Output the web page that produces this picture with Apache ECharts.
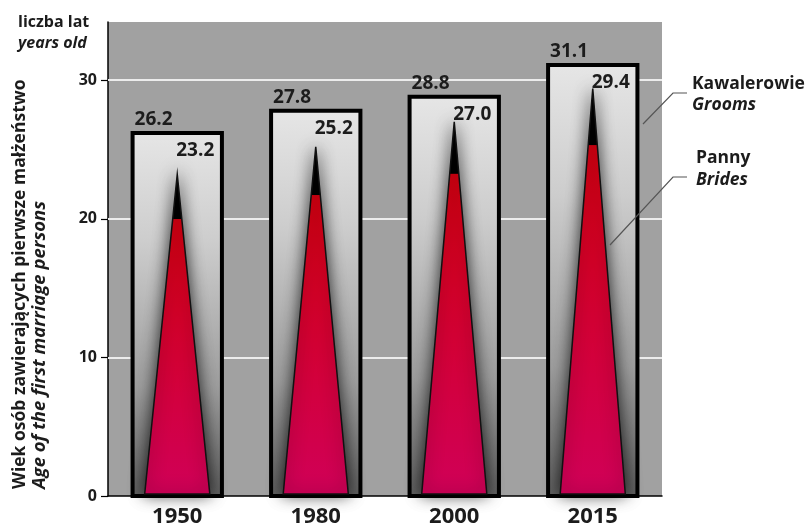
<!DOCTYPE html>
<html><head><meta charset="utf-8">
<script src="https://cdn.jsdelivr.net/npm/echarts@6/dist/echarts.min.js"></script>
<style>html,body{margin:0;padding:0;background:#fff}#c{width:809px;height:530px}</style>
</head><body><div id="c"></div>
<script>
const categories = ['1950', '1980', '2000', '2015'];
const grooms = [26.2, 27.8, 28.8, 31.1];
const brides = [23.2, 25.2, 27.0, 29.4];
const yTickValues = [0, 10, 20, 30];
const gridValues = [10, 20, 30];

const FONT = '"Open Sans", "Noto Sans", sans-serif';
const chart = echarts.init(document.getElementById('c'), null, {renderer: 'canvas'});

const data = categories.map((c, i) => [i, brides[i], grooms[i]]);

function renderItem(params, api) {
  const i = api.value(0), b = api.value(1), g = api.value(2);
  const base = api.coord([i, 0]);
  const gTop = api.coord([i, g]);
  const bTop = api.coord([i, b]);
  const band = api.size([1, 0])[0];
  const bw = band * 0.645;
  const tw = band * 0.235;
  return {
    type: 'group',
    children: [
      {
        type: 'rect',
        shape: {x: base[0] - bw / 2, y: gTop[1], width: bw, height: base[1] - gTop[1]},
        style: {
          fill: new echarts.graphic.LinearGradient(0, 0, 0, 1, [
            {offset: 0, color: '#e6e6e6'},
            {offset: 0.3, color: '#cdcdcd'},
            {offset: 0.7, color: '#9c9c9c'},
            {offset: 1, color: '#5e5e5e'}
          ]),
          stroke: '#000', lineWidth: 4
        }
      },
      {
        type: 'polygon',
        shape: {points: [[base[0] - tw, base[1] - 2], [base[0] + tw, base[1] - 2], [bTop[0], bTop[1]]]},
        style: {
          fill: new echarts.graphic.LinearGradient(0, 0, 0, 1, [
            {offset: 0, color: '#000'},
            {offset: 0.14, color: '#000'},
            {offset: 0.142, color: '#d60010'},
            {offset: 1, color: '#d00058'}
          ]),
          stroke: '#111', lineWidth: 1.5,
          shadowColor: 'rgba(0,0,0,0.8)', shadowBlur: 16
        }
      },
      {
        type: 'text',
        style: {
          text: g.toFixed(1), x: base[0] - bw / 2 + 2, y: gTop[1] - 4,
          align: 'left', verticalAlign: 'bottom',
          fill: '#1c1c1c', font: 'bold 19px ' + FONT
        }
      },
      {
        type: 'text',
        style: {
          text: b.toFixed(1), x: base[0] + band * 0.13, y: gTop[1] + 18,
          align: 'center', verticalAlign: 'middle',
          fill: '#1c1c1c', font: 'bold 19px ' + FONT
        }
      }
    ]
  };
}

const option = {
  animation: false,
  backgroundColor: '#fff',
  grid: {left: 108, right: 147, top: 22, bottom: 34, show: true, backgroundColor: '#a1a1a1', borderWidth: 0},
  xAxis: {
    type: 'category', data: categories,
    axisLine: {lineStyle: {color: '#000', width: 1.5}},
    axisTick: {show: false},
    axisLabel: {color: '#1c1c1c', fontFamily: FONT, fontWeight: 'bold', fontSize: 22, margin: 10}
  },
  yAxis: {
    type: 'value', min: 0, max: 34.2, interval: 10,
    axisLine: {show: true, lineStyle: {color: '#000', width: 1.5}},
    axisTick: {show: true, length: 7, lineStyle: {color: '#000', width: 1.2}, customValues: yTickValues},
    axisLabel: {color: '#1c1c1c', fontFamily: FONT, fontWeight: 'bold', fontSize: 16, margin: 11, customValues: yTickValues},
    splitLine: {show: false}
  },
  series: [
    {
      type: 'line', data: [], z: 1, silent: true,
      markLine: {
        silent: true, symbol: 'none', label: {show: false}, z: 1,
        lineStyle: {color: '#ececec', width: 2, type: 'solid'},
        data: gridValues.map(v => ({yAxis: v}))
      }
    },
    {
      type: 'custom', z: 3, data: data, renderItem: renderItem,
      encode: {x: 0, y: [1, 2]}
    }
  ],
  graphic: [
    {type: 'text', x: 18, y: 22, style: {text: 'liczba lat', fill: '#1c1c1c', font: 'bold 16px ' + FONT, verticalAlign: 'middle'}},
    {type: 'text', x: 18, y: 43, style: {text: 'years old', fill: '#1c1c1c', font: 'italic bold 16px ' + FONT, verticalAlign: 'middle'}},
    {type: 'text', x: 20, y: 489, rotation: Math.PI / 2,
      style: {text: 'Wiek osób zawierających pierwsze małżeństwo', fill: '#1c1c1c', font: 'bold 17.5px ' + FONT, align: 'left', verticalAlign: 'middle'}},
    {type: 'text', x: 40, y: 489, rotation: Math.PI / 2,
      style: {text: 'Age of the first marriage persons', fill: '#1c1c1c', font: 'italic bold 18.5px ' + FONT, align: 'left', verticalAlign: 'middle'}},
    {type: 'text', x: 692, y: 84, style: {text: 'Kawalerowie', fill: '#1c1c1c', font: 'bold 17.5px ' + FONT, verticalAlign: 'middle'}},
    {type: 'text', x: 692, y: 105, style: {text: 'Grooms', fill: '#1c1c1c', font: 'italic bold 17.5px ' + FONT, verticalAlign: 'middle'}},
    {type: 'text', x: 696, y: 158, style: {text: 'Panny', fill: '#1c1c1c', font: 'bold 17.5px ' + FONT, verticalAlign: 'middle'}},
    {type: 'text', x: 696, y: 180, style: {text: 'Brides', fill: '#1c1c1c', font: 'italic bold 17.5px ' + FONT, verticalAlign: 'middle'}},
    {type: 'polyline', shape: {points: [[687, 93], [673, 93], [643, 124]]}, style: {stroke: '#555', lineWidth: 1.2, fill: null}, z: 10},
    {type: 'polyline', shape: {points: [[687, 177], [673, 177], [610, 245]]}, style: {stroke: '#555', lineWidth: 1.2, fill: null}, z: 10}
  ]
};
chart.setOption(option);
</script>
</body></html>
